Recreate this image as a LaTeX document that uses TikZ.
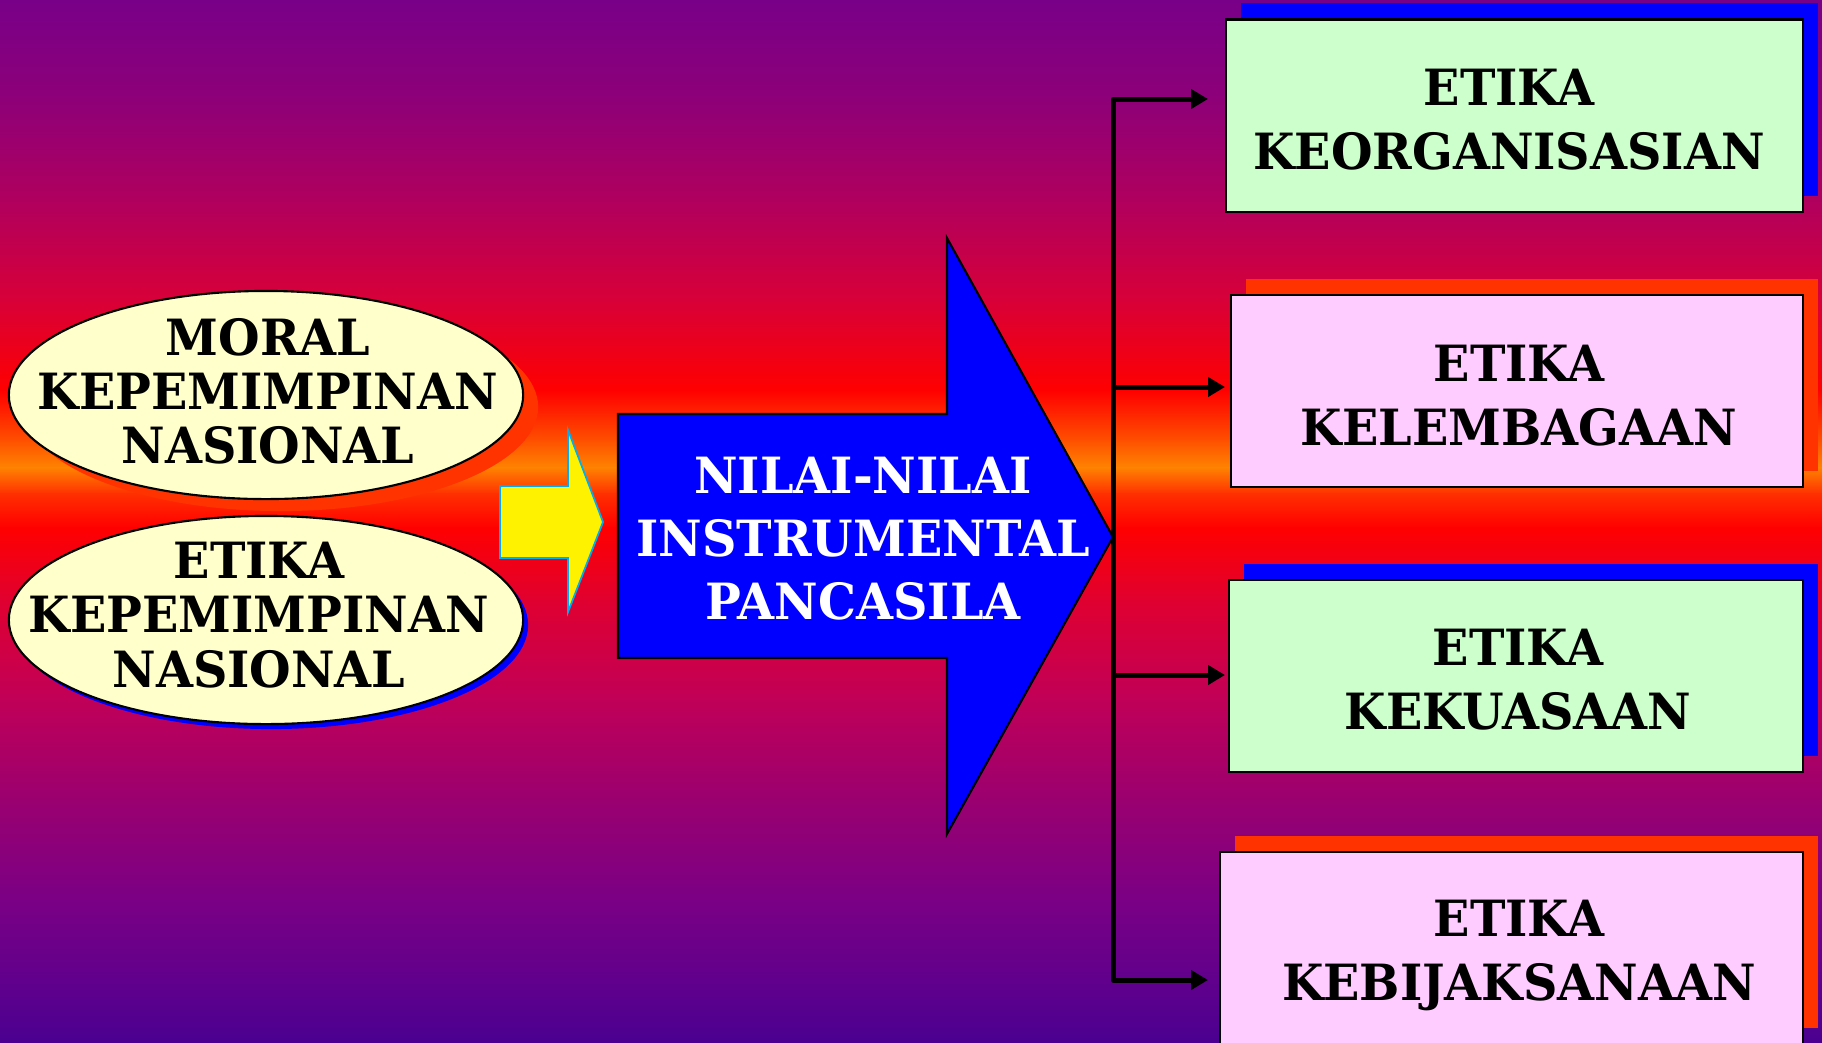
\documentclass[tikz,border=0pt]{standalone}
\usepackage{fontspec}
\setmainfont{DejaVu Serif}[FakeStretch=0.955]
\usetikzlibrary{arrows.meta,shapes.geometric,shadows}
\definecolor{bgA}{HTML}{780088}
\definecolor{bgB}{HTML}{8E0078}
\definecolor{bgC}{HTML}{B0005E}
\definecolor{bgD}{HTML}{D80038}
\definecolor{bgE}{HTML}{FF0000}
\definecolor{bgF}{HTML}{FF5000}
\definecolor{bgG}{HTML}{FF8400}
\definecolor{bgH}{HTML}{FF3000}
\definecolor{bgI}{HTML}{FF0000}
\definecolor{bgJ}{HTML}{E00030}
\definecolor{bgK}{HTML}{C00058}
\definecolor{bgL}{HTML}{9A0070}
\definecolor{bgM}{HTML}{7A0085}
\definecolor{bgN}{HTML}{5A008E}
\definecolor{bgO}{HTML}{4A0090}
\definecolor{ellfill}{HTML}{FFFFCC}
\definecolor{greenbox}{HTML}{CCFFCC}
\definecolor{pinkbox}{HTML}{FFCCFF}
\definecolor{redshadow}{HTML}{FF3300}
\definecolor{bluefill}{HTML}{0000FF}
\tikzset{
  ellbox/.style={ellipse, draw=black, line width=0.6pt, fill=ellfill,
    minimum width=5.14cm, minimum height=2.08cm, inner sep=0pt},
  etxt/.style={font={\fontsize{14.2pt}{15.4pt}\selectfont\bfseries}, align=center, inner sep=0pt, text=black},
  atxt/.style={font={\fontsize{14.2pt}{17.9pt}\selectfont\bfseries}, align=center, inner sep=0pt, text=white},
  btxt/.style={font={\fontsize{14.2pt}{18.2pt}\selectfont\bfseries}, align=center, inner sep=0pt, text=black},
  ebox/.style={rectangle, draw=black, line width=0.6pt, minimum height=1.92cm, inner sep=0pt},
  blueshadow/.style={drop shadow={shadow xshift=0.15cm, shadow yshift=0.16cm, fill=bluefill, opacity=1}},
  redshad/.style={drop shadow={shadow xshift=0.15cm, shadow yshift=0.16cm, fill=redshadow, opacity=1}},
  conn/.style={draw=black, line width=1.42pt, line join=round,
    arrows={-Triangle[length=0.17cm,width=0.19cm]}},
}
\begin{document}
\begin{tikzpicture}[x=0.01cm,y=-0.01cm]
\useasboundingbox (0,0) rectangle (1822,1042);
% background gradient
\foreach \ya/\yb/\ca/\cb in {0/100/bgA/bgB, 100/200/bgB/bgC, 200/300/bgC/bgD, 300/390/bgD/bgE,
  390/440/bgE/bgF, 440/467/bgF/bgG, 467/493/bgG/bgH, 493/527/bgH/bgI, 527/600/bgI/bgJ,
  600/700/bgJ/bgK, 700/800/bgK/bgL, 800/900/bgL/bgM, 900/1000/bgM/bgN, 1000/1043/bgN/bgO}{
  \shade[top color=\ca, bottom color=\cb] (-2,\ya) rectangle (1824,\yb+1);
}
% ellipses
\node[ellbox, drop shadow={shadow xshift=0.15cm, shadow yshift=-0.12cm, fill=redshadow, opacity=1}] (e1) at (266,395) {};
\node[etxt] (t1) at (268,391) {MORAL\\KEPEMIMPINAN\\NASIONAL};
\node[ellbox, drop shadow={shadow xshift=0.05cm, shadow yshift=-0.05cm, fill=bluefill, opacity=1}] (e2) at (266,620) {};
\node[etxt] (t2) at (259,615) {ETIKA\\KEPEMIMPINAN\\NASIONAL};
% yellow arrow
\draw[fill=yellow, draw=cyan, line width=0.5pt] (500,486) -- (568,486) -- (568,430) -- (603,522)
  -- (568,612) -- (568,558) -- (500,558) -- cycle;
% blue arrow
\draw[fill=bluefill, draw=black, line width=0.6pt] (618,414) -- (947,414) -- (947,238) -- (1113,537)
  -- (947,834) -- (947,658) -- (618,658) -- cycle;
\node[atxt] (nilai) at (863,539) {NILAI-NILAI\\INSTRUMENTAL\\PANCASILA};
\coordinate (hub) at (1113,537);
% boxes
\node[ebox, fill=greenbox, blueshadow, minimum width=5.77cm] (b1) at (1514.5,115.5) {};
\node[btxt] (bt1) at (1509,120) {ETIKA\\KEORGANISASIAN};
\node[ebox, fill=pinkbox, redshad, minimum width=5.72cm] (b2) at (1517,391) {};
\node[btxt] (bt2) at (1519,396) {ETIKA\\KELEMBAGAAN};
\node[ebox, fill=greenbox, blueshadow, minimum width=5.74cm] (b3) at (1516,676) {};
\node[btxt] (bt3) at (1518,680) {ETIKA\\KEKUASAAN};
\node[ebox, fill=pinkbox, redshad, minimum width=5.83cm] (b4) at (1511.5,948) {};
\node[btxt] (bt4) at (1519,955) {ETIKA\\KEBIJAKSANAAN};
% connector ends
\coordinate (a1) at (1208,99);
\coordinate (a2) at (1225,387);
\coordinate (a3) at (1225,675);
\coordinate (a4) at (1208,980);
\draw[conn, arrows={Triangle[length=0.17cm,width=0.19cm]-Triangle[length=0.17cm,width=0.19cm]}] (a1) -| (hub) |- (a4);
\draw[conn] (hub) |- (a2);
\draw[conn] (hub) |- (a3);
\end{tikzpicture}
\end{document}
